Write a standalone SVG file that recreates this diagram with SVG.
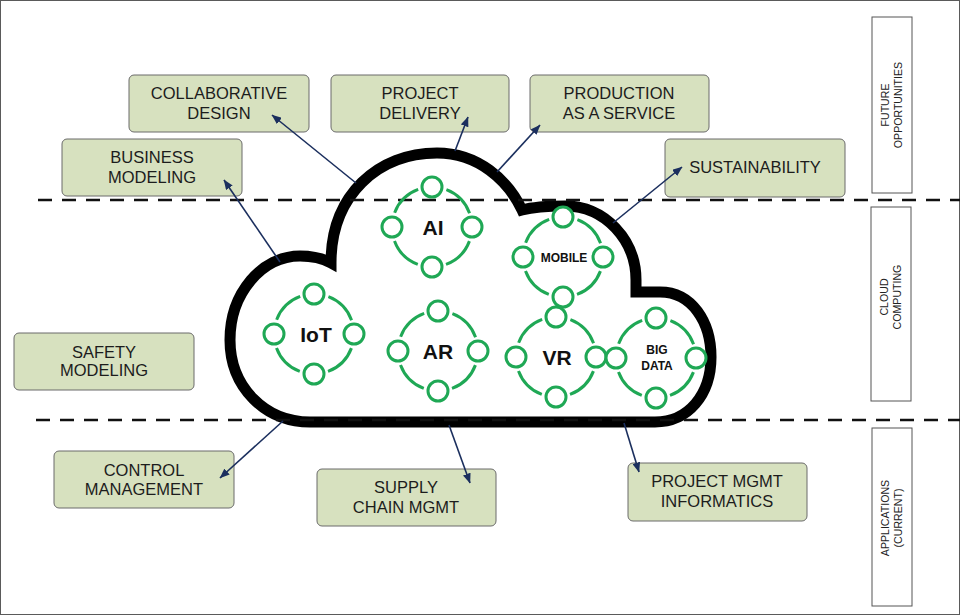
<svg xmlns="http://www.w3.org/2000/svg" width="960" height="615" viewBox="0 0 960 615">
<defs>
<marker id="ah" viewBox="0 0 10 8" refX="9.5" refY="4" markerWidth="10" markerHeight="8" markerUnits="userSpaceOnUse" orient="auto">
<path d="M0,0 L10,4 L0,8 Z" fill="#1b2f5e"/>
</marker>
</defs>
<style>
.box{fill:#d7e1bf;stroke:#6b6b6b;stroke-width:1}
.bt{font-family:"Liberation Sans",Arial,sans-serif;font-size:16.5px;fill:#1c1c1c;text-anchor:middle}
.side{fill:#fff;stroke:#555;stroke-width:1}
.st{font-family:"Liberation Sans",Arial,sans-serif;font-size:10.6px;fill:#222;text-anchor:middle}
.ring{fill:none;stroke:#1fa855;stroke-width:3;stroke-dasharray:34 28.83;stroke-dashoffset:-14.42}
.dot{fill:#fff;stroke:#1fa855;stroke-width:3}
.lb{font-family:"Liberation Sans",Arial,sans-serif;font-weight:bold;fill:#111;text-anchor:middle}
.big{font-size:21px}
.sm{font-size:12px}
.dash{stroke:#111;stroke-width:2.5;stroke-dasharray:14 10;fill:none}
.arr{stroke:#1b2f5e;stroke-width:1.6;fill:none;marker-end:url(#ah)}
</style>
<rect x="0.5" y="0.5" width="959" height="614" fill="#fff" stroke="#5a5a5a" stroke-width="1"/>

<path id="cloud" d="M655,422 L310,422 C265,422 230,387 230,340 C230,293 262,256 300,256 C312,256 322,258 331,263 C331,195 378,153 437,153 C478,153 508,180 522,210 C533,207 548,206 565,206 C605,206 636,240 636,280 L636,292 L660,292 C692,292 711,322 711,357 C711,395 688,422 655,422 Z" fill="#fff" stroke="#000" stroke-width="11" stroke-linejoin="miter"/>

<g id="dividers">
<line class="dash" x1="38" y1="200" x2="960" y2="200"/>
<line class="dash" x1="36" y1="420" x2="960" y2="420"/>
</g>

<g id="tech-ai">
<circle class="ring" cx="432" cy="227" r="40"/>
<circle class="dot" cx="432" cy="187" r="10"/><circle class="dot" cx="472" cy="227" r="10"/><circle class="dot" cx="432" cy="267" r="10"/><circle class="dot" cx="392" cy="227" r="10"/>
<text class="lb big" x="433" y="234.5">AI</text>
</g>
<g id="tech-mobile">
<circle class="ring" cx="563" cy="257" r="40"/>
<circle class="dot" cx="563" cy="217" r="10"/><circle class="dot" cx="603" cy="257" r="10"/><circle class="dot" cx="563" cy="297" r="10"/><circle class="dot" cx="523" cy="257" r="10"/>
<text class="lb sm" x="564" y="261.5">MOBILE</text>
</g>
<g id="tech-iot">
<circle class="ring" cx="314" cy="334" r="40"/>
<circle class="dot" cx="314" cy="294" r="10"/><circle class="dot" cx="354" cy="334" r="10"/><circle class="dot" cx="314" cy="374" r="10"/><circle class="dot" cx="274" cy="334" r="10"/>
<text class="lb big" x="316" y="341.5">IoT</text>
</g>
<g id="tech-ar">
<circle class="ring" cx="438" cy="351" r="40"/>
<circle class="dot" cx="438" cy="311" r="10"/><circle class="dot" cx="478" cy="351" r="10"/><circle class="dot" cx="438" cy="391" r="10"/><circle class="dot" cx="398" cy="351" r="10"/>
<text class="lb big" x="438" y="358.5">AR</text>
</g>
<g id="tech-vr">
<circle class="ring" cx="556" cy="357" r="40"/>
<circle class="dot" cx="556" cy="317" r="10"/><circle class="dot" cx="596" cy="357" r="10"/><circle class="dot" cx="556" cy="397" r="10"/><circle class="dot" cx="516" cy="357" r="10"/>
<text class="lb big" x="557" y="364.5">VR</text>
</g>
<g id="tech-bigdata">
<circle class="ring" cx="656" cy="358" r="40"/>
<circle class="dot" cx="656" cy="318" r="10"/><circle class="dot" cx="696" cy="358" r="10"/><circle class="dot" cx="656" cy="398" r="10"/><circle class="dot" cx="616" cy="358" r="10"/>
<text class="lb sm" x="657" y="354">BIG</text>
<text class="lb sm" x="657" y="370">DATA</text>
</g>

<g id="box-collab"><rect class="box" x="129" y="75" width="180" height="57" rx="5"/><text class="bt" x="219" y="98.8">COLLABORATIVE</text><text class="bt" x="219" y="118.8">DESIGN</text></g>
<g id="box-delivery"><rect class="box" x="331" y="75" width="178" height="57" rx="5"/><text class="bt" x="420" y="98.8">PROJECT</text><text class="bt" x="420" y="118.8">DELIVERY</text></g>
<g id="box-production"><rect class="box" x="530" y="75" width="179" height="57" rx="5"/><text class="bt" x="619" y="98.8">PRODUCTION</text><text class="bt" x="619" y="118.8">AS A SERVICE</text></g>
<g id="box-business"><rect class="box" x="62" y="139" width="180" height="57" rx="5"/><text class="bt" x="152" y="162.8">BUSINESS</text><text class="bt" x="152" y="182.8">MODELING</text></g>
<g id="box-sustain"><rect class="box" x="665" y="139" width="180" height="58" rx="5"/><text class="bt" x="755" y="172.8">SUSTAINABILITY</text></g>
<g id="box-safety"><rect class="box" x="14" y="333" width="180" height="57" rx="5"/><text class="bt" x="104" y="357.8">SAFETY</text><text class="bt" x="104" y="375.8">MODELING</text></g>
<g id="box-control"><rect class="box" x="54" y="451" width="180" height="57" rx="5"/><text class="bt" x="144" y="475.8">CONTROL</text><text class="bt" x="144" y="494.8">MANAGEMENT</text></g>
<g id="box-supply"><rect class="box" x="317" y="469" width="179" height="57" rx="5"/><text class="bt" x="406" y="492.8">SUPPLY</text><text class="bt" x="406" y="512.8">CHAIN MGMT</text></g>
<g id="box-pmi"><rect class="box" x="628" y="463" width="179" height="58" rx="5"/><text class="bt" x="717" y="486.8">PROJECT MGMT</text><text class="bt" x="717" y="506.8">INFORMATICS</text></g>

<g id="side-future"><rect class="side" x="872" y="17" width="40" height="176"/><g transform="translate(892,105) rotate(-90)"><text class="st" x="0" y="-2.7">FUTURE</text><text class="st" x="0" y="10.3">OPPORTUNITIES</text></g></g>
<g id="side-cloud"><rect class="side" x="871" y="207" width="40" height="194"/><g transform="translate(891,297) rotate(-90)"><text class="st" x="0" y="-2.7">CLOUD</text><text class="st" x="0" y="10.3">COMPUTING</text></g></g>
<g id="side-apps"><rect class="side" x="872" y="428" width="40" height="178"/><g transform="translate(892,518) rotate(-90)"><text class="st" x="0" y="-2.7">APPLICATIONS</text><text class="st" x="0" y="10.3">(CURRENT)</text></g></g>

<g id="connectors">
<line class="arr" x1="356" y1="183" x2="272" y2="115"/>
<line class="arr" x1="280" y1="262" x2="224" y2="180"/>
<line class="arr" x1="455" y1="151" x2="468" y2="117"/>
<line class="arr" x1="497" y1="172" x2="540" y2="125"/>
<line class="arr" x1="613" y1="223" x2="682" y2="167"/>
<line class="arr" x1="283" y1="421" x2="220" y2="478"/>
<line class="arr" x1="449" y1="425" x2="470" y2="483"/>
<line class="arr" x1="624" y1="423" x2="639" y2="472"/>
</g>
</svg>
